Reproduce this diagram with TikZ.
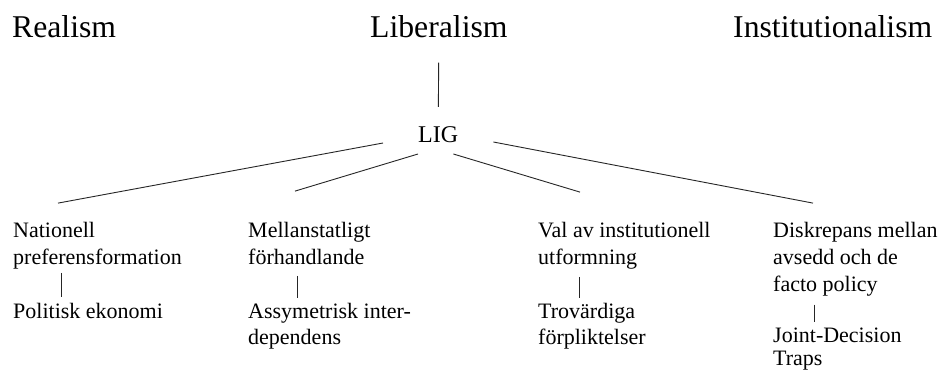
\documentclass[tikz,border=0pt]{standalone}
\usepackage{fontspec}
\setmainfont{Liberation Serif}
\begin{document}
\begin{tikzpicture}[x=1pt,y=-1pt,
  head/.style={anchor=base west, inner sep=0pt, font=\fontsize{31.7}{38}\selectfont},
  mid/.style={anchor=base west, inner sep=0pt, font=\fontsize{24}{29}\selectfont},
  leaf/.style={anchor=base west, inner sep=0pt, font=\fontsize{22}{26.7}\selectfont},
  link/.style={line width=0.9pt, draw=black!85}]
\useasboundingbox[fill=white] (0,0) rectangle (939,371);

\node[head] (real) at (12,38) {Realism};
\node[head] (lib) at (370,38) {Liberalism};
\node[head] (inst) at (733,38) {Institutionalism};
\node[mid] (lig) at (418,143) {LIG};

\node[leaf] (n1) at (13,238) {\begin{tabular}[t]{@{}l@{}}Nationell\\preferensformation\end{tabular}};
\node[leaf] (n1b) at (13,318) {\begin{tabular}[t]{@{}l@{}}Politisk ekonomi\end{tabular}};

\node[leaf] (n2) at (248,238) {\begin{tabular}[t]{@{}l@{}}Mellanstatligt\\förhandlande\end{tabular}};
\node[leaf] (n2b) at (248,318) {\begin{tabular}[t]{@{}l@{}}Assymetrisk inter-\\dependens\end{tabular}};

\node[leaf] (n3) at (538,238) {\begin{tabular}[t]{@{}l@{}}Val av institutionell\\utformning\end{tabular}};
\node[leaf] (n3b) at (538,318) {\begin{tabular}[t]{@{}l@{}}Trovärdiga\\förpliktelser\end{tabular}};

\node[leaf] (n4) at (773,238) {\begin{tabular}[t]{@{}l@{}}Diskrepans mellan\\avsedd och de\\facto policy\end{tabular}};
\node[leaf] (n4b) at (773,342) {\begin{tabular}[t]{@{}l@{}}Joint-Decision\\[-3pt]Traps\end{tabular}};

% Liberalism -- LIG
\draw[link, shorten <=24pt, shorten >=20pt] (lib.south) -- (lig.north);

% LIG fan
\draw[link] ([xshift=-35pt]lig.base west) -- ([xshift=45pt,yshift=16pt]n1.north west);
\draw[link] ([yshift=-11pt]lig.base west) -- ([xshift=47pt,yshift=28pt]n2.north west);
\draw[link] ([xshift=-5pt,yshift=-11pt]lig.base east) -- ([xshift=42pt,yshift=27pt]n3.north west);
\draw[link] ([xshift=35pt,yshift=1pt]lig.base east) -- ([xshift=40pt,yshift=16pt]n4.north west);

% ticks
\draw[link] ([xshift=48pt]n1.south west) -- ([xshift=48pt,yshift=2pt]n1b.north west);
\draw[link] ([xshift=49pt,yshift=-3pt]n2.south west) -- ([xshift=49pt,yshift=1pt]n2b.north west);
\draw[link] ([xshift=41pt,yshift=-4pt]n3.south west) -- ([xshift=41pt,yshift=1pt]n3b.north west);
\draw[link] ([xshift=41pt,yshift=-5pt]n4.south west) -- ([xshift=41pt,yshift=1pt]n4b.north west);
\end{tikzpicture}
\end{document}
